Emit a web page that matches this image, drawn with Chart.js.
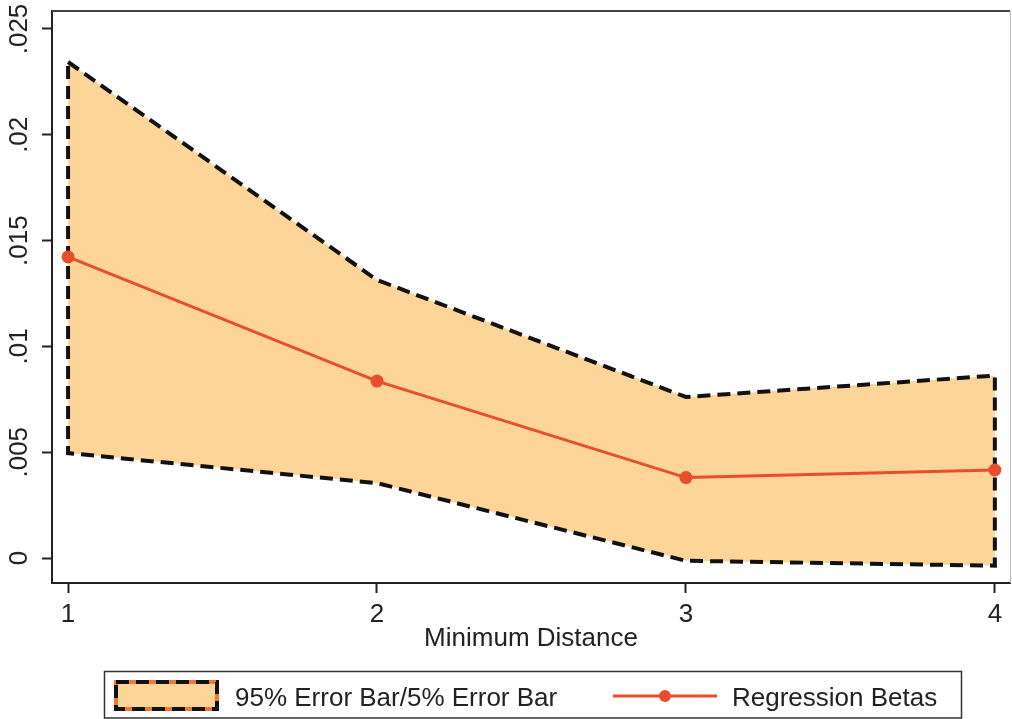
<!DOCTYPE html>
<html lang="en">
<head>
  <meta charset="UTF-8">
  <title>Regression Betas by Minimum Distance</title>
  <script src="https://cdn.jsdelivr.net/npm/chart.js"></script>
  <style>
    body { margin: 0; background: #fff; }
    #wrap { width: 1012px; height: 719px; position: relative; }
  </style>
</head>
<body>
<div id="wrap">
  <canvas id="grafico"></canvas>
</div>

<script>
  // valores
  var distancias = [1, 2, 3, 4];
  var betas = [0.01423, 0.00836, 0.0038, 0.00416];
  var erro95 = [0.02344, 0.01314, 0.00761, 0.00862];
  var erro5 = [0.00496, 0.00354, -0.00013, -0.00036];

  var yTickValores = [0, 0.005, 0.01, 0.015, 0.02, 0.025];
  var yTickTextos = ['0', '.005', '.01', '.015', '.02', '.025'];
  var xTickTextos = ['1', '2', '3', '4'];

  var legendaTextos = ['95% Error Bar/5% Error Bar', 'Regression Betas'];

  var corFaixa = 'rgb(253, 213, 152)';
  var corLinha = 'rgb(233, 78, 44)';
  var fonte = '"Liberation Sans", Arial, sans-serif';

  // contorno da faixa: sobe pelo 95%, volta pelo 5% e fecha
  var contorno = [];
  for (var i = 0; i < distancias.length; i++) {
    contorno.push({ x: distancias[i], y: erro95[i] });
  }
  for (var j = distancias.length - 1; j >= 0; j--) {
    contorno.push({ x: distancias[j], y: erro5[j] });
  }
  contorno.push({ x: distancias[0], y: erro95[0] });

  var pontosBeta = distancias.map(function (d, k) { return { x: d, y: betas[k] }; });

  // desenha rotulos do eixo y, moldura e legenda
  var extras = {
    id: 'extras',
    afterDraw: function (chart) {
      var ctx = chart.ctx;
      var area = chart.chartArea;
      var ys = chart.scales.y;

      ctx.save();
      // moldura superior e direita
      ctx.strokeStyle = '#444';
      ctx.lineWidth = 2;
      ctx.beginPath();
      ctx.moveTo(area.left, area.top);
      ctx.lineTo(area.right, area.top);
      ctx.stroke();
      ctx.strokeStyle = '#bbb';
      ctx.lineWidth = 1;
      ctx.beginPath();
      ctx.moveTo(area.right + 0.5, area.top);
      ctx.lineTo(area.right + 0.5, area.bottom);
      ctx.stroke();

      // rotulos verticais do eixo y
      ctx.fillStyle = '#222';
      ctx.font = '26px ' + fonte;
      ctx.textAlign = 'center';
      ctx.textBaseline = 'alphabetic';
      for (var i = 0; i < yTickValores.length; i++) {
        var py = ys.getPixelForValue(yTickValores[i]);
        ctx.save();
        ctx.translate(27, py);
        ctx.rotate(-Math.PI / 2);
        ctx.fillText(yTickTextos[i], 0, 0);
        ctx.restore();
      }

      // legenda
      ctx.strokeStyle = '#333';
      ctx.lineWidth = 1.5;
      ctx.strokeRect(104.5, 671.5, 857, 46.5);

      ctx.fillStyle = corFaixa;
      ctx.fillRect(116, 682, 101, 27);
      ctx.strokeStyle = 'rgb(245, 120, 45)';
      ctx.lineWidth = 4;
      ctx.strokeRect(116, 682, 101, 27);
      ctx.strokeStyle = '#111';
      ctx.setLineDash([13, 7]);
      ctx.strokeRect(116, 682, 101, 27);
      ctx.setLineDash([]);

      ctx.strokeStyle = corLinha;
      ctx.lineWidth = 3;
      ctx.beginPath();
      ctx.moveTo(613, 696);
      ctx.lineTo(717, 696);
      ctx.stroke();
      ctx.fillStyle = corLinha;
      ctx.beginPath();
      ctx.arc(665, 696, 6, 0, Math.PI * 2);
      ctx.fill();

      ctx.fillStyle = '#222';
      ctx.font = '26px ' + fonte;
      ctx.textAlign = 'left';
      ctx.fillText(legendaTextos[0], 235, 706);
      ctx.fillText(legendaTextos[1], 732, 706);
      ctx.restore();
    }
  };

  var config = {
    type: 'line',
    data: {
      datasets: [{
        label: legendaTextos[1],
        data: pontosBeta,
        borderColor: corLinha,
        borderWidth: 3,
        pointRadius: 6.5,
        pointBackgroundColor: corLinha,
        pointBorderWidth: 0,
        fill: false,
        tension: 0
      }, {
        label: legendaTextos[0],
        data: contorno,
        borderColor: '#111',
        borderWidth: 4,
        borderDash: [13, 7],
        borderJoinStyle: 'miter',
        backgroundColor: corFaixa,
        pointRadius: 0,
        fill: 'shape',
        tension: 0
      }]
    },
    options: {
      responsive: true,
      maintainAspectRatio: false,
      animation: false,
      layout: { autoPadding: false, padding: { left: 0, right: 2, top: 11, bottom: 64 } },
      plugins: {
        legend: { display: false },
        tooltip: { enabled: false }
      },
      scales: {
        x: {
          type: 'linear',
          min: 0.948,
          max: 4.049,
          afterFit: function (s) {
            s.height = 72;
            s.paddingLeft = 0;
            s.paddingRight = 0;
          },
          border: { display: true, color: '#222', width: 2 },
          grid: { drawOnChartArea: false, drawTicks: true, tickLength: 10, color: '#222', tickWidth: 2 },
          ticks: {
            stepSize: 1,
            includeBounds: false,
            padding: 6,
            color: '#222',
            font: { family: fonte, size: 26 },
            callback: function (v) { return xTickTextos[v - 1]; }
          },
          title: {
            display: true,
            text: 'Minimum Distance',
            color: '#222',
            font: { family: fonte, size: 26 },
            padding: { top: 0, bottom: 1 }
          }
        },
        y: {
          min: -0.00118,
          max: 0.02585,
          afterFit: function (s) {
            s.width = 52;
            s.paddingTop = 0;
            s.paddingBottom = 0;
          },
          border: { display: true, color: '#222', width: 2 },
          grid: { drawOnChartArea: false, drawTicks: true, tickLength: 10, color: '#222', tickWidth: 2 },
          ticks: {
            stepSize: 0.005,
            includeBounds: false,
            display: false
          }
        }
      }
    },
    plugins: [extras]
  };

  new Chart(document.getElementById('grafico'), config);
</script>
</body>
</html>
